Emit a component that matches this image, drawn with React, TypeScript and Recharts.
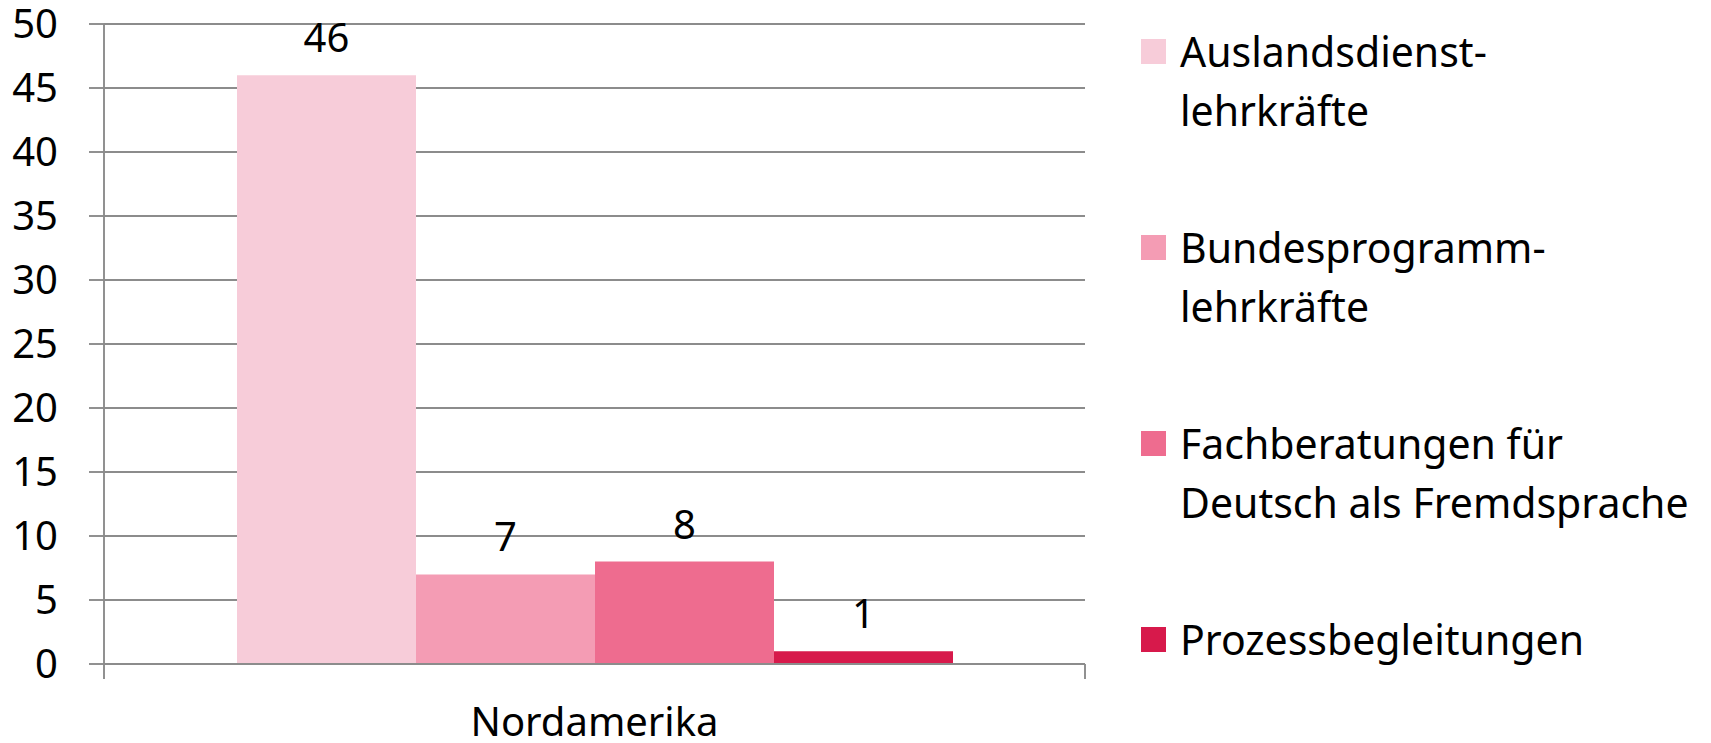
import React from "react";
import { BarChart, Bar, XAxis, YAxis, CartesianGrid, LabelList } from "recharts";

const categories = ["Nordamerika"];
const seriesKeys = ["ads", "bpl", "fb", "pb"];
const seriesNames = [
  "Auslandsdienst-\nlehrkräfte",
  "Bundesprogramm-\nlehrkräfte",
  "Fachberatungen für\nDeutsch als Fremdsprache",
  "Prozessbegleitungen",
];
const seriesColors = ["#F7CCD9", "#F49CB4", "#EE6C8F", "#D7194B"];
const adsValues = [46];
const bplValues = [7];
const fbValues = [8];
const pbValues = [1];
const yTicks = [0, 5, 10, 15, 20, 25, 30, 35, 40, 45, 50];

const data = categories.map((c, i) => ({
  region: c,
  ads: adsValues[i],
  bpl: bplValues[i],
  fb: fbValues[i],
  pb: pbValues[i],
}));

const FONT = "'Noto Sans', sans-serif";
const GRAY = "#8C8C8C";
const LW = 1.9;
const X_TICK_MARGIN = 44;
const EDGE_TICK = 15;

const CategoryTick = (props: any) => {
  const { x, y, payload, width, visibleTicksCount } = props;
  const band = Number(width) / (visibleTicksCount || 1);
  const axisY = y - X_TICK_MARGIN;
  const left = x - band / 2;
  const right = x + band / 2;
  return (
    <g>
      {isFinite(band) && (
        <>
          <line x1={left} x2={left} y1={axisY} y2={axisY + EDGE_TICK} stroke={GRAY} strokeWidth={LW} />
          <line x1={right} x2={right} y1={axisY} y2={axisY + EDGE_TICK} stroke={GRAY} strokeWidth={LW} />
        </>
      )}
      <text
        x={x}
        y={y}
        dy="0.71em"
        textAnchor="middle"
        fill="#000"
        fontSize={40}
        fontFamily={FONT}
      >
        {payload.value}
      </text>
    </g>
  );
};

export default function App() {
  return (
    <div
      style={{
        position: "absolute",
        left: 0,
        top: 0,
        width: 1711,
        height: 743,
        overflow: "hidden",
        background: "#fff",
        fontFamily: FONT,
      }}
    >
      <BarChart
        width={1711}
        height={743}
        data={data}
        margin={{ top: 24, right: 626, bottom: 0, left: 0 }}
        barCategoryGap={133}
        barGap={0}
        style={{ fontFamily: FONT }}
      >
        <CartesianGrid horizontal={true} vertical={false} stroke={GRAY} strokeWidth={LW} />
        <XAxis
          dataKey="region"
          height={79}
          axisLine={{ stroke: GRAY, strokeWidth: LW }}
          tickLine={false}
          tickSize={0}
          tickMargin={X_TICK_MARGIN}
          tick={<CategoryTick />}
        />
        <YAxis
          width={104}
          domain={[0, 50]}
          ticks={yTicks}
          interval={0}
          axisLine={{ stroke: GRAY, strokeWidth: LW }}
          tickLine={{ stroke: GRAY, strokeWidth: LW }}
          tickSize={15}
          tickMargin={31}
          tick={{ fill: "#000", fontSize: 40, fontFamily: FONT }}
        />
        {seriesKeys.map((k, i) => (
          <Bar
            key={k}
            dataKey={k}
            name={seriesNames[i]}
            fill={seriesColors[i]}
            isAnimationActive={false}
          >
            <LabelList
              dataKey={k}
              position="top"
              offset={23}
              fill="#000"
              fontSize={40}
              fontFamily={FONT}
            />
          </Bar>
        ))}
      </BarChart>
      <div
        style={{
          position: "absolute",
          left: 1141,
          top: 21.5,
          width: 570,
        }}
      >
        {seriesNames.map((n, i) => (
          <div
            key={n}
            style={{
              display: "flex",
              alignItems: "flex-start",
              height: 196.3,
            }}
          >
            <div
              style={{
                width: 25,
                height: 25,
                marginTop: 17,
                background: seriesColors[i],
                flex: "0 0 auto",
              }}
            />
            <div
              style={{
                marginLeft: 14,
                fontSize: 41,
                lineHeight: "59px",
                whiteSpace: "pre-line",
                color: "#000",
                fontFamily: FONT,
              }}
            >
              {n}
            </div>
          </div>
        ))}
      </div>
    </div>
  );
}
